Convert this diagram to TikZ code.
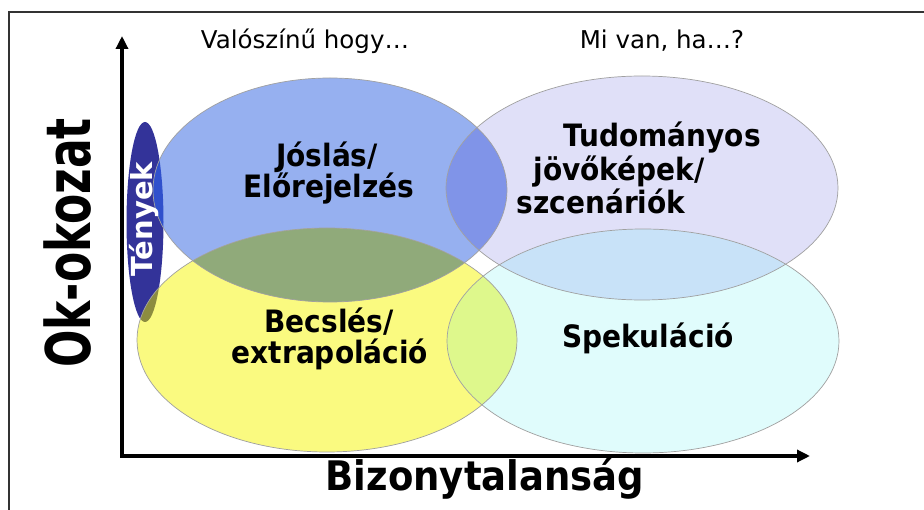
\documentclass[tikz,border=0pt]{standalone}
\usepackage{fontspec}
\setmainfont{DejaVu Sans}
\usetikzlibrary{arrows.meta}
\definecolor{cA}{RGB}{150,176,240}
\definecolor{cB}{RGB}{224,224,248}
\definecolor{cC}{RGB}{250,250,128}
\definecolor{cD}{RGB}{224,252,252}
\definecolor{cT}{RGB}{51,51,153}
\definecolor{cAB}{RGB}{128,148,232}
\definecolor{cAC}{RGB}{144,170,122}
\definecolor{cBD}{RGB}{200,226,248}
\definecolor{cCD}{RGB}{222,248,140}
\definecolor{cTA}{RGB}{48,80,204}
\definecolor{cTC}{RGB}{140,140,64}
\definecolor{edgec}{RGB}{160,160,160}
\begin{document}
\begin{tikzpicture}[x=1pt,y=-1pt,
  axisline/.style={line width=4pt,{Triangle[length=13pt,width=12pt]}-{Triangle[length=13pt,width=12pt]}},
  lbl/.style={font=\fontsize{28}{34}\selectfont\bfseries, anchor=base, inner sep=0pt, yscale=1.1},
  toplbl/.style={font=\fontsize{24.5}{28}\selectfont, anchor=base, inner sep=0pt},
  outline/.style={draw=edgec, line width=0.7pt}]
\useasboundingbox (0,0) rectangle (924,510);
\fill[white] (0,0) rectangle (924,510);
\def\pT{(145,222) ellipse [x radius=18.5pt, y radius=100pt]}
\def\pA{(330,190) ellipse [x radius=177pt, y radius=112pt]}
\def\pB{(642,188) ellipse [x radius=196pt, y radius=112pt]}
\def\pC{(327,340) ellipse [x radius=190pt, y radius=112pt]}
\def\pD{(643,341) ellipse [x radius=196pt, y radius=112pt]}
% frame
\draw[line width=2pt, black!80] (9,510) -- (9,12) -- (924,12);
% base fills
\fill[cT] \pT;
\fill[cA] \pA;
\fill[cB] \pB;
\fill[cC] \pC;
\fill[cD] \pD;
% overlaps
\begin{scope}\clip \pA; \fill[cAB] \pB; \end{scope}
\begin{scope}\clip \pA; \fill[cAC] \pC; \end{scope}
\begin{scope}\clip \pB; \fill[cBD] \pD; \end{scope}
\begin{scope}\clip \pC; \fill[cCD] \pD; \end{scope}
\begin{scope}\clip \pT; \fill[cTA] \pA; \fill[cTC] \pC; \end{scope}
% outlines
\draw[outline] \pA; \draw[outline] \pB; \draw[outline] \pC; \draw[outline] \pD;
% axes
\coordinate (Ytip) at (122,36);
\coordinate (O) at (122,456);
\coordinate (Xtip) at (810,456);
\draw[axisline] (Ytip) -- (O) -- (Xtip);
% texts
\node[toplbl] (q1) at (305,49) {Valószínű hogy…};
\node[toplbl] (q2) at (662,49) {Mi van, ha…?};
\node[lbl] (j1) at (327,167) {Jóslás/};
\node[lbl] (j2) at (329,198) {Előrejelzés};
\node[lbl] (t1) at (662,147) {Tudományos};
\node[lbl] (t2) at (619,181) {jövőképek/};
\node[lbl] (t3) at (601,214) {szcenáriók};
\node[lbl] (b1) at (329,333) {Becslés/};
\node[lbl] (b2) at (330,364) {extrapoláció};
\node[lbl] (s1) at (648,348) {Spekuláció};
\node[font=\fontsize{37}{40}\selectfont\bfseries, anchor=base, inner sep=0pt, yscale=1.1] (xl) at (485,490) {Bizonytalanság};
\node[font=\fontsize{44}{48}\selectfont\bfseries, anchor=base, inner sep=0pt, rotate=90, yscale=1.4] (yl) at (90,243) {Ok-okozat};
\node[font=\fontsize{29}{30}\selectfont\bfseries, text=white, anchor=base, inner sep=0pt, rotate=90] (te) at (152,219) {Tények};
\end{tikzpicture}
\end{document}
